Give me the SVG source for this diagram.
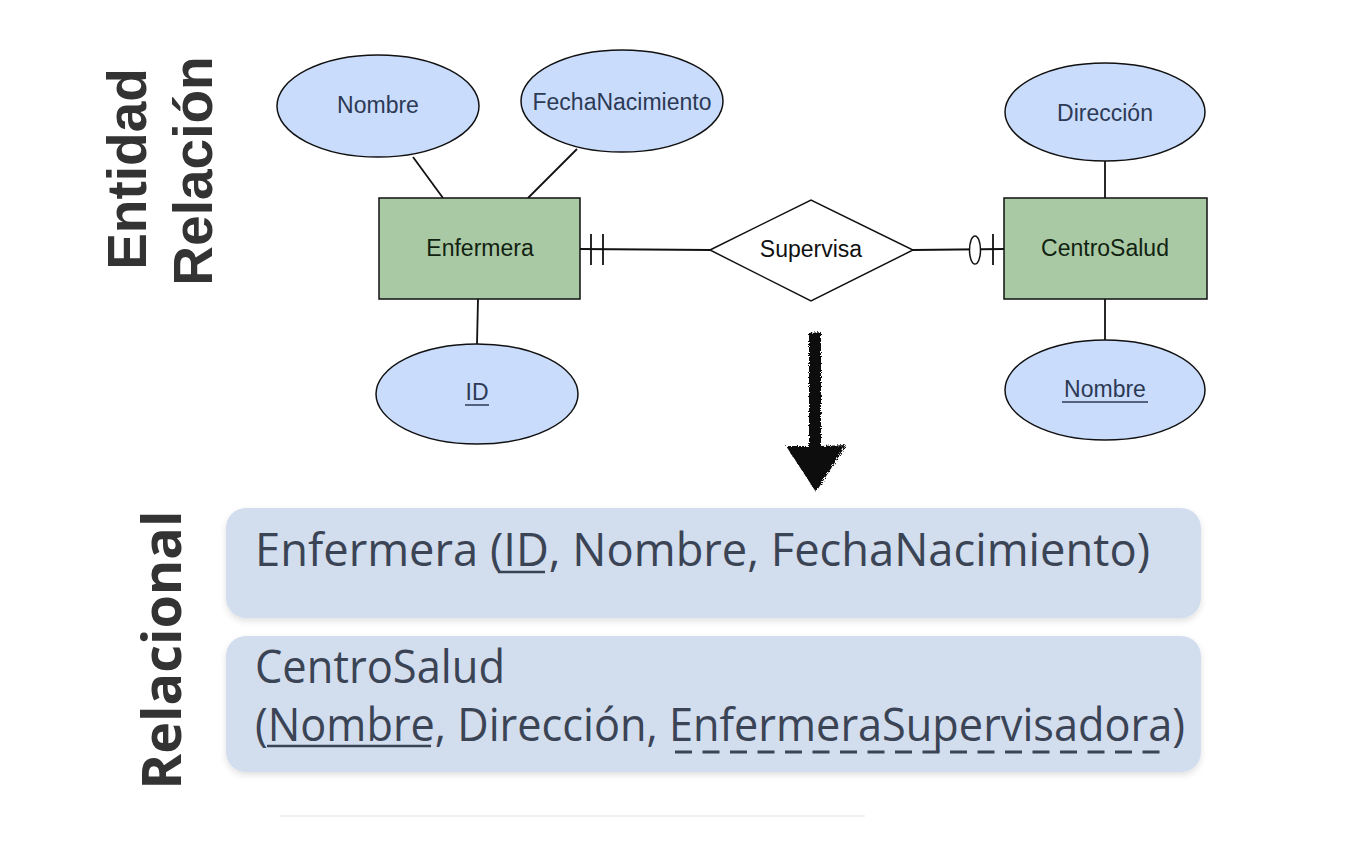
<svg xmlns="http://www.w3.org/2000/svg" width="1370" height="841" viewBox="0 0 1370 841">
<defs>
<style>
.attr{fill:#cadcfc;stroke:#111;stroke-width:1.5}
.ent{fill:#a9c9a4;stroke:#111;stroke-width:1.5}
.lbl{font-family:"Liberation Sans",Arial,sans-serif;font-size:23px;text-anchor:middle}
.al{fill:#2c3a55}
.el{fill:#112211}
.conn{stroke:#111;stroke-width:1.8;fill:none}
.side{font-family:"Liberation Sans",Arial,sans-serif;font-weight:bold;font-size:55px;fill:#333;text-anchor:middle}
.rel{font-family:"Open Sans","Noto Sans",sans-serif;font-size:46px;fill:#3b4455}
.box{fill:#d2ddee}
</style>
<filter id="sh" x="-5%" y="-20%" width="110%" height="150%">
<feDropShadow dx="0" dy="3" stdDeviation="3" flood-color="#000" flood-opacity="0.12"/>
</filter>
<filter id="rough" x="-20%" y="-10%" width="140%" height="120%">
<feTurbulence type="fractalNoise" baseFrequency="0.9" numOctaves="2" result="n"/>
<feDisplacementMap in="SourceGraphic" in2="n" scale="5"/>
</filter>
</defs>

<g id="side-labels">
<text class="side" transform="translate(146,169) rotate(-90)">Entidad</text>
<text class="side" transform="translate(212,171) rotate(-90)">Relación</text>
<text class="side" style="font-family:'Open Sans','Noto Sans',sans-serif;font-size:54px" transform="translate(181,650) rotate(-90)">Relacional</text>
</g>

<g id="connectors">
<line class="conn" x1="413" y1="157" x2="443" y2="198"/>
<line class="conn" x1="577" y1="149" x2="528" y2="198"/>
<line class="conn" x1="478" y1="299" x2="477" y2="344"/>
<line class="conn" x1="1105" y1="160" x2="1105" y2="198"/>
<line class="conn" x1="1105" y1="299" x2="1105" y2="340"/>
<line class="conn" x1="580" y1="249" x2="710" y2="250"/>
<line class="conn" x1="591" y1="234" x2="591" y2="265"/>
<line class="conn" x1="603" y1="234" x2="603" y2="265"/>
<line class="conn" x1="913" y1="250" x2="1004" y2="249"/>
<ellipse cx="975" cy="250" rx="5.5" ry="14" fill="#fff" stroke="#111" stroke-width="1.5"/>
<line class="conn" x1="993" y1="234" x2="993" y2="265"/>
</g>

<g id="attr-nombre">
<ellipse class="attr" cx="378" cy="106" rx="101" ry="51"/>
<text class="lbl al" x="378" y="113">Nombre</text>
</g>
<g id="attr-fecha">
<ellipse class="attr" cx="622" cy="101" rx="101" ry="51"/>
<text class="lbl al" x="622" y="110">FechaNacimiento</text>
</g>
<g id="attr-id">
<ellipse class="attr" cx="477" cy="394" rx="101" ry="50"/>
<text class="lbl al" x="477" y="400">ID</text>
<line x1="465" y1="405" x2="489" y2="405" stroke="#2c3a55" stroke-width="1.5"/>
</g>
<g id="ent-enfermera">
<rect class="ent" x="379" y="198" width="201" height="101"/>
<text class="lbl el" x="480" y="256">Enfermera</text>
</g>
<g id="rel-supervisa">
<polygon points="710,250 811,200 913,250 811,301" fill="#fff" stroke="#111" stroke-width="1.5"/>
<text class="lbl" fill="#111" x="811" y="257">Supervisa</text>
</g>
<g id="ent-centro">
<rect class="ent" x="1004" y="198" width="203" height="101"/>
<text class="lbl el" x="1105" y="256">CentroSalud</text>
</g>
<g id="attr-direccion">
<ellipse class="attr" cx="1105" cy="112" rx="100" ry="49"/>
<text class="lbl al" x="1105" y="121">Dirección</text>
</g>
<g id="attr-nombre2">
<ellipse class="attr" cx="1105" cy="390" rx="100" ry="50"/>
<text class="lbl al" x="1105" y="397">Nombre</text>
<line x1="1062" y1="402" x2="1148" y2="402" stroke="#2c3a55" stroke-width="1.5"/>
</g>

<g id="arrow" filter="url(#rough)">
<path d="M809,333 L821,332 L821,446 L846,445 L816,492 L786,446 L809,446 Z" fill="#111"/>
</g>

<g id="table-enfermera">
<rect class="box" x="226" y="508" width="975" height="110" rx="20" filter="url(#sh)"/>
<text class="rel" x="255" y="566" textLength="895" lengthAdjust="spacingAndGlyphs">Enfermera (ID, Nombre, FechaNacimiento)</text>
<line x1="498" y1="572" x2="545" y2="572" stroke="#3b4455" stroke-width="2.5"/>
</g>
<g id="table-centro">
<rect class="box" x="226" y="636" width="975" height="136" rx="20" filter="url(#sh)"/>
<text class="rel" x="255" y="683" textLength="250" lengthAdjust="spacingAndGlyphs">CentroSalud</text>
<text class="rel" x="255" y="741" textLength="930" lengthAdjust="spacingAndGlyphs">(Nombre, Dirección, EnfermeraSupervisadora)</text>
<line x1="267" y1="746" x2="431" y2="746" stroke="#3b4455" stroke-width="2.5"/>
<line x1="675" y1="752" x2="1162" y2="752" stroke="#3b4455" stroke-width="3" stroke-dasharray="17 10.5"/>
</g>

<line x1="280" y1="816" x2="865" y2="816" stroke="#ececec" stroke-width="1.5"/>
</svg>
